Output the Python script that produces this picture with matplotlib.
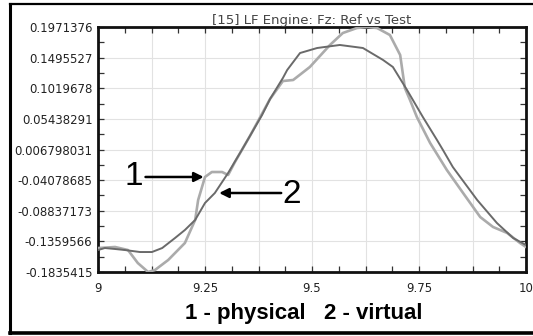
import matplotlib
matplotlib.use("Agg")
import matplotlib.pyplot as plt
from matplotlib.ticker import MultipleLocator, FixedLocator, FuncFormatter
from matplotlib.lines import Line2D

# ---- data ----
phys_x = [9.000, 9.040, 9.070, 9.093, 9.117, 9.133, 9.164, 9.203, 9.227, 9.234, 9.250,
          9.266, 9.290, 9.304, 9.320, 9.355, 9.402, 9.432, 9.456, 9.495, 9.542, 9.572,
          9.605, 9.630, 9.652, 9.682, 9.706, 9.717, 9.729, 9.745, 9.776, 9.815, 9.853,
          9.893, 9.923, 9.956, 9.986, 10.000]
phys_y = [-0.1463, -0.1447, -0.1494, -0.1696, -0.1835, -0.1805, -0.1649, -0.1385, -0.1027,
          -0.0717, -0.0359, -0.0282, -0.0282, -0.0328, -0.0126, 0.0278, 0.0853, 0.1132,
          0.1148, 0.1350, 0.1692, 0.1878, 0.1956, 0.1971, 0.1956, 0.1847, 0.1536, 0.1024,
          0.0837, 0.0573, 0.0169, -0.0250, -0.0608, -0.0981, -0.1136, -0.1229, -0.1385,
          -0.1447]

virt_x = [9.000, 9.016, 9.040, 9.063, 9.098, 9.126, 9.150, 9.180, 9.203, 9.227, 9.250,
          9.273, 9.304, 9.336, 9.383, 9.402, 9.432, 9.442, 9.472, 9.512, 9.565, 9.619,
          9.666, 9.689, 9.722, 9.759, 9.792, 9.806, 9.829, 9.886, 9.932, 9.970, 10.000]
virt_y = [-0.1494, -0.1463, -0.1478, -0.1494, -0.1525, -0.1525, -0.1463, -0.1307, -0.1183,
          -0.1027, -0.0763, -0.0608, -0.0297, 0.0060, 0.0600, 0.0853, 0.1179, 0.1303,
          0.1567, 0.1645, 0.1692, 0.1645, 0.1459, 0.1350, 0.0993, 0.0573, 0.0216, 0.0060,
          -0.0204, -0.0717, -0.1074, -0.1307, -0.1416]

y_ticks = [0.1971376, 0.1495527, 0.1019678, 0.05438291, 0.006798031,
           -0.04078685, -0.08837173, -0.1359566, -0.1835415]
y_tick_labels = ["0.1971376", "0.1495527", "0.1019678", "0.05438291", "0.006798031",
                 "-0.04078685", "-0.08837173", "-0.1359566", "-0.1835415"]
x_tick_labels = {9.0: "9", 9.25: "9.25", 9.5: "9.5", 9.75: "9.75", 10.0: "10"}

title = "[15] LF Engine: Fz: Ref vs Test"
caption = "1 - physical   2 - virtual"

# ---- figure ----
W, H = 533, 336
fig = plt.figure(figsize=(W / 100, H / 100), dpi=100)
fig.patch.set_facecolor("white")
plt.rcParams["font.family"] = ["Liberation Sans", "DejaVu Sans"]

ax_l, ax_r, ax_t, ax_b = 98, 526, 27, 272
ax = fig.add_axes([ax_l / W, 1 - ax_b / H, (ax_r - ax_l) / W, (ax_b - ax_t) / H])

ax.plot(phys_x, phys_y, color="#ababab", lw=1.9, solid_joinstyle="round", zorder=3)
ax.plot(virt_x, virt_y, color="#6a6a6a", lw=1.4, solid_joinstyle="round", zorder=4)

ax.set_xlim(9, 10)
ax.set_ylim(y_ticks[-1], y_ticks[0])

ax.xaxis.set_major_locator(MultipleLocator(0.125))
ax.xaxis.set_minor_locator(MultipleLocator(0.0625))


def xfmt(v, pos):
    for k, s in x_tick_labels.items():
        if abs(v - k) < 1e-6:
            return s
    return ""


ax.xaxis.set_major_formatter(FuncFormatter(xfmt))
ax.yaxis.set_major_locator(FixedLocator(y_ticks))
ax.set_yticklabels(y_tick_labels)
mids = [(y_ticks[i] + y_ticks[i + 1]) / 2 for i in range(len(y_ticks) - 1)]
ax.yaxis.set_minor_locator(FixedLocator(mids))

ax.tick_params(which="both", direction="in", top=True, right=True,
               length=4, width=0.9, color="#333333")
ax.tick_params(axis="both", labelsize=8.5, labelcolor="#222222")
for lab in ax.get_xticklabels() + ax.get_yticklabels():
    lab.set_family("DejaVu Sans")
ax.tick_params(axis="x", pad=7)
ax.tick_params(axis="y", pad=4)

ax.grid(True, which="major", color="#e2e2e2", lw=0.8, zorder=0)
for s in ax.spines.values():
    s.set_linewidth(2.0)
    s.set_color("#111111")

ax.set_title(title, fontsize=9.5, color="#444444", pad=2, family="DejaVu Sans")

# annotations
ax.text(9.084, -0.0359, "1", fontsize=24, ha="center", va="center", color="black", zorder=6)
ax.annotate("", xy=(9.247, -0.0359), xytext=(9.111, -0.0359),
            arrowprops=dict(arrowstyle="-|>", lw=1.8, color="black", mutation_scale=14,
                            shrinkA=0, shrinkB=0), zorder=6)
ax.text(9.453, -0.0630, "2", fontsize=24, ha="center", va="center", color="black", zorder=6)
ax.annotate("", xy=(9.283, -0.0608), xytext=(9.428, -0.0608),
            arrowprops=dict(arrowstyle="-|>", lw=1.8, color="black", mutation_scale=14,
                            shrinkA=0, shrinkB=0), zorder=6)

fig.text(304 / W, 1 - 314 / H, caption, fontsize=16, fontweight="bold",
         ha="center", va="center", color="black")

# outer frame (left, top, bottom)
fig.add_artist(Line2D([10 / W, 10 / W], [1 - 4 / H, 1 - 333 / H], color="black", lw=2.2,
                      transform=fig.transFigure))
fig.add_artist(Line2D([10 / W, 1.0], [1 - 4 / H, 1 - 4 / H], color="black", lw=1.6,
                      transform=fig.transFigure))
fig.add_artist(Line2D([10 / W, 1.0], [1 - 333 / H, 1 - 333 / H], color="black", lw=2.6,
                      transform=fig.transFigure))

fig.savefig("out.png", dpi=100)
